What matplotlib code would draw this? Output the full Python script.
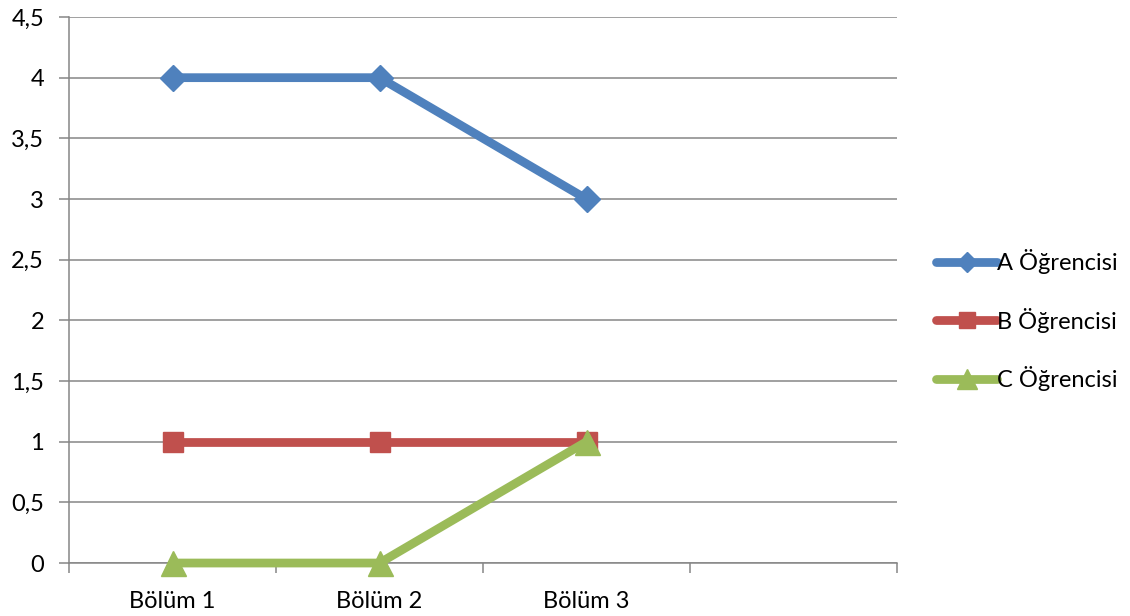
import matplotlib.pyplot as plt
from matplotlib.ticker import FixedLocator, FixedFormatter

# data
categories = ["Bölüm 1", "Bölüm 2", "Bölüm 3"]
series_names = ["A Öğrencisi", "B Öğrencisi", "C Öğrencisi"]
a_values = [4, 4, 3]
b_values = [1, 1, 1]
c_values = [0, 0, 1]
y_ticks = [0, 0.5, 1, 1.5, 2, 2.5, 3, 3.5, 4, 4.5]
y_labels = ["0", "0,5", "1", "1,5", "2", "2,5", "3", "3,5", "4", "4,5"]

BLUE = "#4F81BD"
RED = "#C0504D"
GREEN = "#9BBB59"
GRID = "#868686"

plt.rcParams["font.family"] = ["Lato", "DejaVu Sans"]

fig = plt.figure(figsize=(11.3, 6.16), dpi=100)
ax = fig.add_axes([0.0611, 0.0860, 0.7327, 0.8864])

x = list(range(len(categories)))

ax.plot(x, a_values, color=BLUE, lw=6.3, marker="D", ms=13,
        solid_capstyle="round", label=series_names[0], zorder=3, clip_on=False)
ax.plot(x, b_values, color=RED, lw=6.3, marker="s", ms=14.5,
        solid_capstyle="round", label=series_names[1], zorder=3, clip_on=False)
ax.plot(x, c_values, color=GREEN, lw=6.3, marker="^", ms=18,
        solid_capstyle="round", label=series_names[2], zorder=4, clip_on=False)

# axes: one empty category slot on the right, ticks between categories
n_slots = len(categories) + 1
ax.set_xlim(-0.5, n_slots - 0.5)
ax.set_ylim(0, 4.5)
ax.set_yticks(y_ticks)
ax.set_yticklabels(y_labels)
ax.yaxis.grid(True, color=GRID, lw=1.1)
ax.set_axisbelow(True)

ax.xaxis.set_major_locator(FixedLocator([i - 0.5 for i in range(n_slots + 1)]))
ax.xaxis.set_major_formatter(FixedFormatter([""] * (n_slots + 1)))
ax.xaxis.set_minor_locator(FixedLocator(x))
ax.xaxis.set_minor_formatter(FixedFormatter(categories))
ax.tick_params(axis="x", which="major", length=7, width=1.1, color=GRID)
ax.tick_params(axis="x", which="minor", length=0, pad=20, labelsize=17)
ax.tick_params(axis="y", length=7, width=1.1, color=GRID, labelsize=17, pad=11)

for side in ["top", "right"]:
    ax.spines[side].set_visible(False)
for side in ["left", "bottom"]:
    ax.spines[side].set_color(GRID)
    ax.spines[side].set_linewidth(1.1)

ax.legend(loc="center left", bbox_to_anchor=(1.022, 0.445), frameon=False,
          fontsize=17, handlelength=2.55, handletextpad=0.0,
          labelspacing=1.41, markerscale=0.8)

fig.savefig("out.png", dpi=100)
